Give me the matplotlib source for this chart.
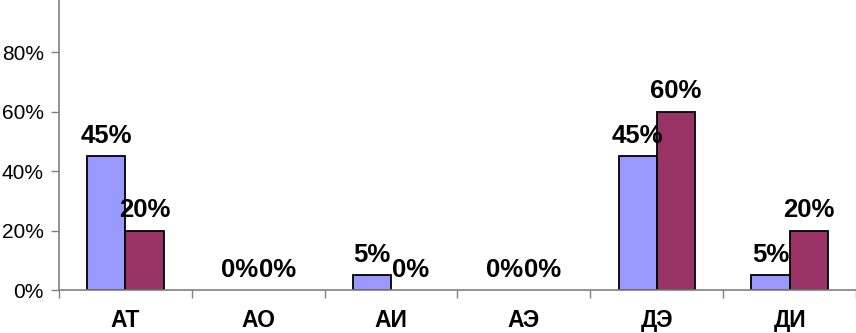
import numpy as np
import matplotlib.pyplot as plt
from matplotlib.ticker import FixedLocator, FuncFormatter

categories = ['АТ', 'АО', 'АИ', 'АЭ', 'ДЭ', 'ДИ']
series_1 = [0.45, 0.00, 0.05, 0.00, 0.45, 0.05]
series_2 = [0.20, 0.00, 0.00, 0.00, 0.60, 0.20]
y_ticks = [0.0, 0.2, 0.4, 0.6, 0.8]

plt.rcParams['font.family'] = ['Liberation Sans', 'DejaVu Sans']

fig = plt.figure(figsize=(8.56, 3.33), dpi=100)
ax = fig.add_axes([59 / 856, 43 / 333, 797 / 856, 290 / 333])

x = np.arange(len(categories))
w = 0.287
b1 = ax.bar(x - w / 2, series_1, w, color='#9999FF', edgecolor='black', linewidth=1.3)
b2 = ax.bar(x + w / 2, series_2, w, color='#993366', edgecolor='black', linewidth=1.3)

for bars in (b1, b2):
    for rect in bars:
        h = rect.get_height()
        if h == 0:
            rect.set_linewidth(0)
        ax.annotate(f'{h * 100:.0f}%', (rect.get_x() + rect.get_width() / 2, h),
                    xytext=(0, 6), textcoords='offset points',
                    ha='center', va='bottom', fontsize=18.5, fontweight='bold')

ax.set_xlim(-0.5, len(categories) - 0.5)
ax.set_ylim(0, 0.975)

ax.set_xticks(x)
ax.set_xticklabels(categories, fontsize=16.5, fontweight='bold')
ax.tick_params(axis='x', which='major', length=0, pad=14)
ax.xaxis.set_minor_locator(FixedLocator(np.arange(-0.5, len(categories), 1.0)))
ax.tick_params(axis='x', which='minor', length=6, color='#808080', width=1)

ax.set_yticks(y_ticks)
ax.yaxis.set_major_formatter(FuncFormatter(lambda v, p: f'{v * 100:.0f}%'))
ax.tick_params(axis='y', length=6, color='#808080', width=1, labelsize=15, pad=5)

for s in ('top', 'right'):
    ax.spines[s].set_visible(False)
for s in ('left', 'bottom'):
    ax.spines[s].set_color('#808080')
    ax.spines[s].set_linewidth(1.2)

fig.savefig('out.png', dpi=100)
